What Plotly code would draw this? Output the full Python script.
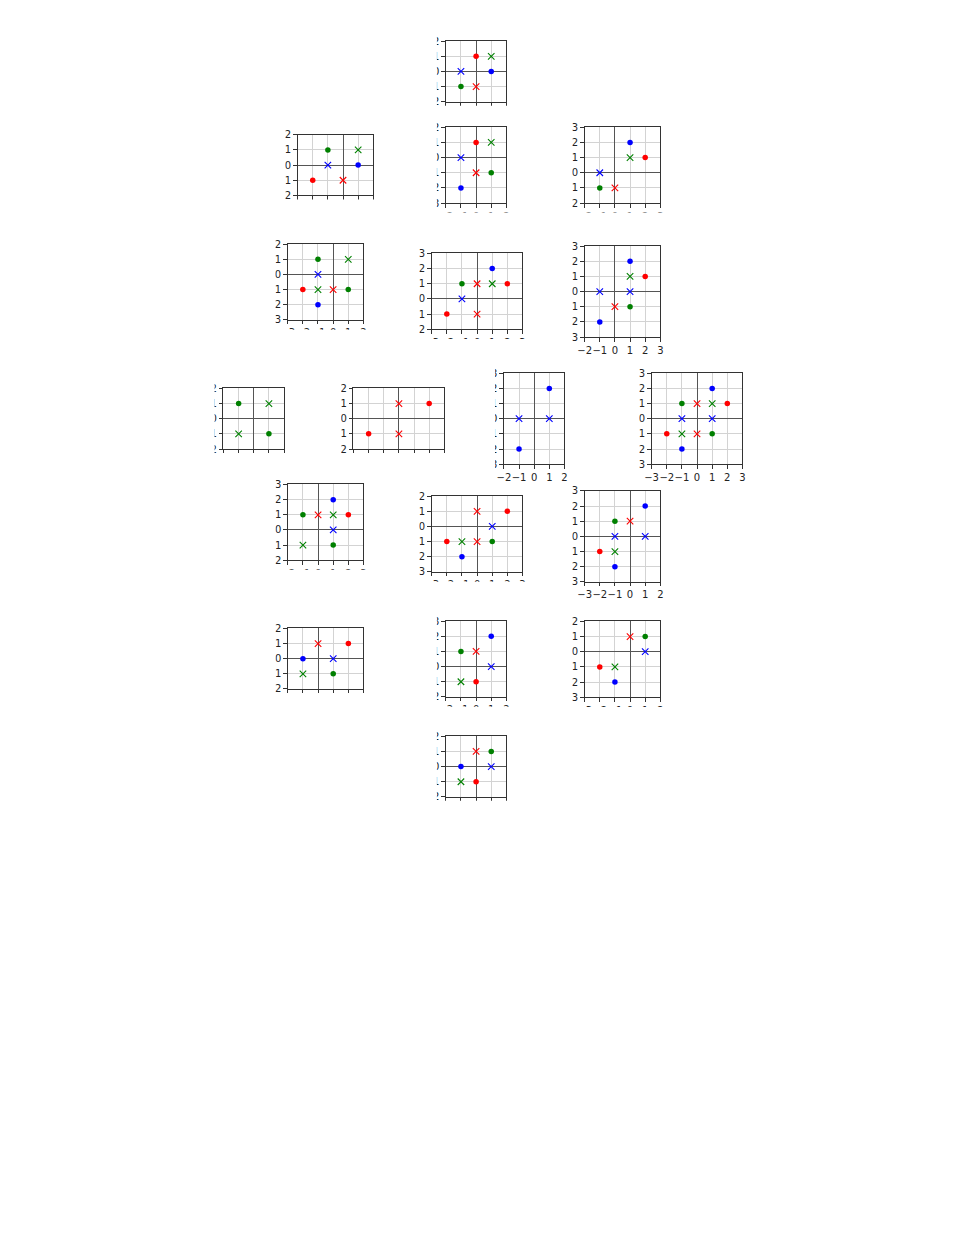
import plotly.graph_objects as go

# ---------------- data ----------------
# each point: (x, y, style)  style: r/g/b + o (dot) / x (cross)
A_POINTS = [(0, 1, "ro"), (1, 1, "gx"), (-1, 0, "bx"), (1, 0, "bo"), (-1, -1, "go"), (0, -1, "rx")]
B_POINTS = [(-1, 1, "go"), (1, 1, "gx"), (-1, 0, "bx"), (1, 0, "bo"), (-2, -1, "ro"), (0, -1, "rx")]
C_POINTS = [(0, 1, "ro"), (1, 1, "gx"), (-1, 0, "bx"), (0, -1, "rx"), (1, -1, "go"), (-1, -2, "bo")]
D_POINTS = [(1, 2, "bo"), (1, 1, "gx"), (2, 1, "ro"), (-1, 0, "bx"), (-1, -1, "go"), (0, -1, "rx")]
E_POINTS = [(-1, 1, "go"), (1, 1, "gx"), (-1, 0, "bx"), (-2, -1, "ro"), (-1, -1, "gx"), (0, -1, "rx"),
            (1, -1, "go"), (-1, -2, "bo")]
F_POINTS = [(1, 2, "bo"), (-1, 1, "go"), (0, 1, "rx"), (1, 1, "gx"), (2, 1, "ro"), (-1, 0, "bx"),
            (-2, -1, "ro"), (0, -1, "rx")]
G_POINTS = [(1, 2, "bo"), (1, 1, "gx"), (2, 1, "ro"), (-1, 0, "bx"), (1, 0, "bx"), (0, -1, "rx"),
            (1, -1, "go"), (-1, -2, "bo")]
H_POINTS = [(-1, 1, "go"), (1, 1, "gx"), (-1, -1, "gx"), (1, -1, "go")]
I_POINTS = [(0, 1, "rx"), (2, 1, "ro"), (-2, -1, "ro"), (0, -1, "rx")]
J_POINTS = [(1, 2, "bo"), (-1, 0, "bx"), (1, 0, "bx"), (-1, -2, "bo")]
K_POINTS = [(1, 2, "bo"), (-1, 1, "go"), (0, 1, "rx"), (1, 1, "gx"), (2, 1, "ro"), (-1, 0, "bx"),
            (1, 0, "bx"), (-2, -1, "ro"), (-1, -1, "gx"), (0, -1, "rx"), (1, -1, "go"), (-1, -2, "bo")]
L_POINTS = [(1, 2, "bo"), (-1, 1, "go"), (0, 1, "rx"), (1, 1, "gx"), (2, 1, "ro"), (1, 0, "bx"),
            (-1, -1, "gx"), (1, -1, "go")]
M_POINTS = [(0, 1, "rx"), (2, 1, "ro"), (1, 0, "bx"), (-2, -1, "ro"), (-1, -1, "gx"), (0, -1, "rx"),
            (1, -1, "go"), (-1, -2, "bo")]
N_POINTS = [(1, 2, "bo"), (-1, 1, "go"), (0, 1, "rx"), (-1, 0, "bx"), (1, 0, "bx"), (-2, -1, "ro"),
            (-1, -1, "gx"), (-1, -2, "bo")]
O_POINTS = [(0, 1, "rx"), (2, 1, "ro"), (-1, 0, "bo"), (1, 0, "bx"), (-1, -1, "gx"), (1, -1, "go")]
P_POINTS = [(1, 2, "bo"), (-1, 1, "go"), (0, 1, "rx"), (1, 0, "bx"), (-1, -1, "gx"), (0, -1, "ro")]
Q_POINTS = [(0, 1, "rx"), (1, 1, "go"), (1, 0, "bx"), (-2, -1, "ro"), (-1, -1, "gx"), (-1, -2, "bo")]
R_POINTS = [(0, 1, "rx"), (1, 1, "go"), (-1, 0, "bo"), (1, 0, "bx"), (-1, -1, "gx"), (0, -1, "ro")]

PANEL_POINTS = [A_POINTS, B_POINTS, C_POINTS, D_POINTS, E_POINTS, F_POINTS, G_POINTS, H_POINTS,
                I_POINTS, J_POINTS, K_POINTS, L_POINTS, M_POINTS, N_POINTS, O_POINTS, P_POINTS,
                Q_POINTS, R_POINTS]

X_RANGES = [(-2, 2), (-3, 2), (-2, 2), (-2, 3), (-3, 2), (-3, 3), (-2, 3), (-2, 2), (-3, 3),
            (-2, 2), (-3, 3), (-2, 3), (-3, 3), (-3, 2), (-2, 3), (-2, 2), (-3, 2), (-2, 2)]
Y_RANGES = [(-2, 2), (-2, 2), (-3, 2), (-2, 3), (-3, 2), (-2, 3), (-3, 3), (-2, 2), (-2, 2),
            (-3, 3), (-3, 3), (-2, 3), (-3, 2), (-3, 3), (-2, 2), (-2, 3), (-3, 2), (-2, 2)]

# ---------------- layout (pixel positions of each panel's origin in the window) ----------------
PAGE_MARGIN = 8                      # default body margin of the html page
W, H = 965 - 2 * PAGE_MARGIN, 1250 - 2 * PAGE_MARGIN
UNIT = 15.3
ORIGIN_PX = [(474, 66), (339.5, 160.6), (474, 153), (614.3, 168.3), (329.5, 271), (475, 295.7),
             (614.3, 288.3), (249.3, 416.7), (396, 416.7), (532.7, 416.7), (697.3, 416.7),
             (314.3, 529), (475, 525.5), (629.6, 535.5), (314.3, 659), (474, 667), (629.6, 652),
             (474, 768)]
# how far left of the box the visible crop starts (labels beyond are hidden)
LEFT_CLIP = [9, 12.5, 9, 12.5, 12.5, 12.5, 12.5, 9, 12.5, 9, 12.5, 12.5, 12.5, 12.5, 12.5, 9, 12.5, 9]
# how far below the box the visible crop ends (None = labels fully visible)
BOTTOM_CLIP = [4, 4, 9.5, 9.5, 10, 10, None, 4, 4, None, None, 9.5, 10, None, 4, 10, 10, 4]

COLORS = {"r": "#ff0000", "g": "#008000", "b": "#0000ff"}
FONT = dict(family="DejaVu Sans, sans-serif", size=10, color="#222222")


def minus(v):
    return str(v) if v >= 0 else "\u2212" + str(-v)


def px(x):
    return (x - PAGE_MARGIN) / W


def py(y):
    return 1 - (y - PAGE_MARGIN) / H


fig = go.Figure()
shapes = []
layout = {}

for i, pts in enumerate(PANEL_POINTS):
    n = i + 1
    xr, yr = X_RANGES[i], Y_RANGES[i]
    ox, oy = ORIGIN_PX[i]
    left = ox + xr[0] * UNIT
    right = ox + xr[1] * UNIT
    top = oy - yr[1] * UNIT
    bottom = oy - yr[0] * UNIT
    xname = "xaxis" if n == 1 else f"xaxis{n}"
    yname = "yaxis" if n == 1 else f"yaxis{n}"
    xref = "x" if n == 1 else f"x{n}"
    yref = "y" if n == 1 else f"y{n}"

    common = dict(
        showgrid=True, gridcolor="#d3d3d3", gridwidth=1,
        zeroline=True, zerolinecolor="#555555", zerolinewidth=1,
        showline=True, mirror=True, linecolor="#333333", linewidth=1,
        ticks="outside", ticklen=3.5, tickwidth=1, tickcolor="#333333",
        tickfont=FONT, fixedrange=True, tickangle=0,
    )
    xt = list(range(xr[0], xr[1] + 1))
    yt = list(range(yr[0], yr[1] + 1))
    layout[xname] = dict(common, domain=[px(left), px(right)], range=list(xr), anchor=yref,
                         tickmode="array", tickvals=xt, ticktext=[minus(v) for v in xt])
    layout[yname] = dict(common, domain=[py(bottom), py(top)], range=list(yr), anchor=xref,
                         tickmode="array", tickvals=yt, ticktext=[str(abs(v)) for v in yt])

    for style in ["ro", "rx", "go", "gx", "bo", "bx"]:
        sel = [p for p in pts if p[2] == style]
        if not sel:
            continue
        col = COLORS[style[0]]
        if style[1] == "o":
            marker = dict(symbol="circle", size=5.5, color=col, line=dict(width=0))
        else:
            marker = dict(symbol="x-thin", size=6.5, color=col, line=dict(width=1.1, color=col))
        fig.add_trace(go.Scatter(x=[p[0] for p in sel], y=[p[1] for p in sel], mode="markers",
                                 marker=marker, xaxis=xref, yaxis=yref, showlegend=False,
                                 hoverinfo="skip"))

    # crop: hide tick labels outside the visible area of the panel image
    cl = left - LEFT_CLIP[i]
    shapes.append(dict(type="rect", xref="paper", yref="paper", layer="above",
                       x0=px(cl - 16), x1=px(cl),
                       y0=py(bottom + 14), y1=py(top - 10),
                       fillcolor="white", line=dict(width=0)))
    if BOTTOM_CLIP[i] is not None:
        cb = bottom + BOTTOM_CLIP[i]
        shapes.append(dict(type="rect", xref="paper", yref="paper", layer="above",
                           x0=px(cl - 16), x1=px(right + 12),
                           y0=py(cb + 14), y1=py(cb),
                           fillcolor="white", line=dict(width=0)))

fig.update_layout(
    width=W, height=H, autosize=False,
    margin=dict(l=0, r=0, t=0, b=0),
    paper_bgcolor="white", plot_bgcolor="white",
    showlegend=False, shapes=shapes,
    **layout,
)

fig.write_html("out.html")
